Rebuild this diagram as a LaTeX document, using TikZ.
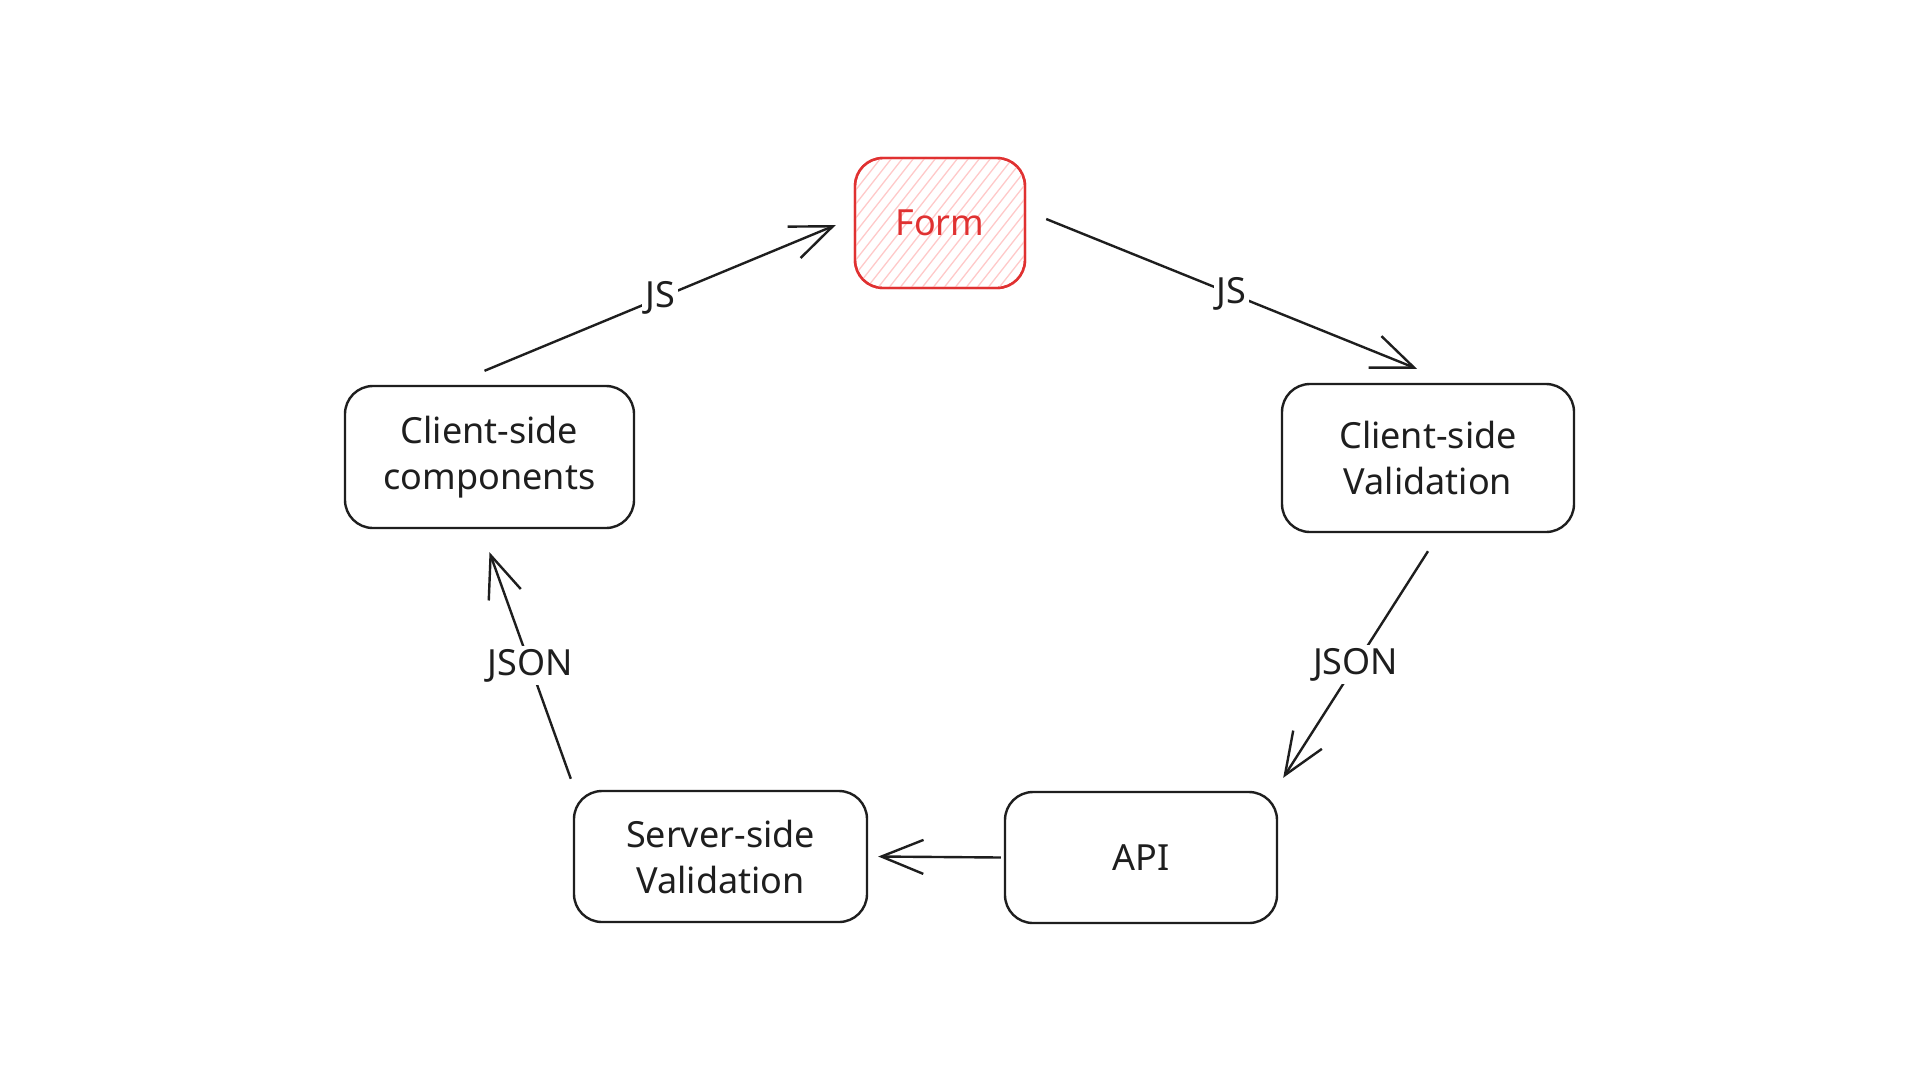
\documentclass[tikz,border=0pt]{standalone}
\usepackage{fontspec}
\setmainfont{Noto Sans}
\usetikzlibrary{arrows.meta,calc}
\definecolor{ink}{HTML}{1E1E1E}
\definecolor{redink}{HTML}{E03131}
\definecolor{hatchc}{HTML}{FFC9C9}
\tikzset{
  box/.style={draw=ink, line width=2.4pt, rounded corners=28pt, align=center,
    text=ink, font=\fontsize{36}{46}\selectfont, inner sep=0pt},
  conn/.style={draw=ink, line width=2.4pt,
    -{Straight Barb[length=42pt,width=34pt,line width=2.4pt]}},
  lbl/.style={fill=white, text=ink, font=\fontsize{36}{40}\selectfont, inner sep=3pt}
}
\begin{document}
\begin{tikzpicture}[x=1pt,y=-1pt]
\useasboundingbox[fill=white] (0,0) rectangle (1920,1080);
% nodes
\node[box, draw=redink, text=redink, minimum width=170pt, minimum height=130pt] (form) at (940,223) {};
\begin{scope}
  \clip[rounded corners=28pt] (form.south west) rectangle (form.north east);
  \foreach \i in {-120,-109,...,200}
    \draw[hatchc, line width=1.3pt] ($(form.south west)+(\i,0)$) -- ++(110,-140);
\end{scope}
\node[box, draw=redink, text=redink, minimum width=170pt, minimum height=130pt] at (form.center) {Form};
\node[box, minimum width=289pt, minimum height=142pt] (cc) at (489.5,457) {Client-side\\components};
\node[box, minimum width=292pt, minimum height=148pt] (cv) at (1428,458) {Client-side\\Validation};
\node[box, minimum width=293pt, minimum height=131pt] (sv) at (720.5,856.5) {Server-side\\Validation};
\node[box, minimum width=272pt, minimum height=131pt] (api) at (1141,857.5) {API};
% connectors
\draw[conn] ($(cc.north)+(-5,-14)$) -- node[lbl] {JS} ($(form.west)+(-18,2)$);
\draw[conn] ($(form.east)+(20,-4)$) -- node[lbl] {JS} ($(cv.north)+(-11,-14)$);
\draw[conn] ($(cv.south)+(0,18)$) -- node[lbl] {JSON} ($(api.north east)+(5,-13)$);
\draw[conn] ($(api.west)+(-3,0)$) -- ($(sv.east)+(10,0)$);
\draw[conn] ($(sv.north west)+(-2,-11)$) -- node[lbl] {JSON} ($(cc.south)+(0,23)$);
\end{tikzpicture}
\end{document}
